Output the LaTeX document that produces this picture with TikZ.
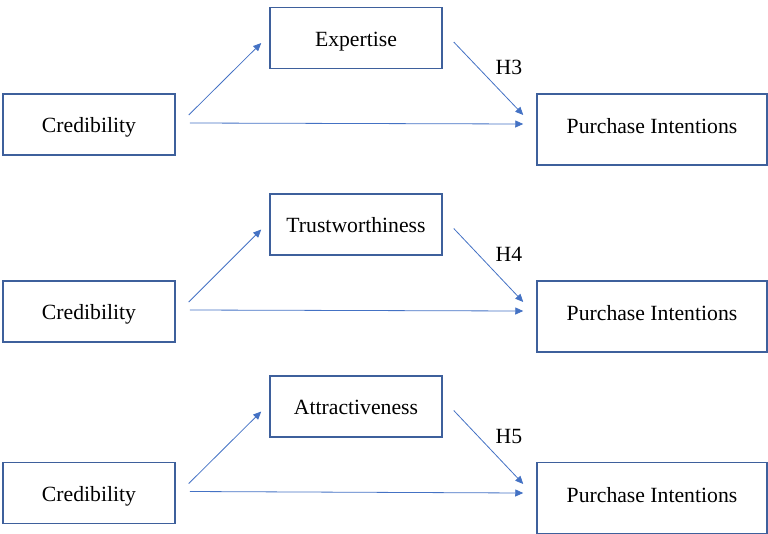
\documentclass[tikz,border=0pt]{standalone}
\usepackage{fontspec}
\setmainfont{Liberation Serif}
\usetikzlibrary{arrows.meta,positioning}
\definecolor{boxblue}{RGB}{62,96,156}
\definecolor{arrowblue}{RGB}{68,114,196}

\begin{document}
\begin{tikzpicture}[x=1pt, y=-1pt,
  every node/.style={font=\fontsize{21.7}{26}\selectfont},
  varbox/.style={draw=boxblue, line width=1.5pt, rectangle, minimum width=172pt, minimum height=61pt, inner sep=0pt, text height=20pt, text depth=4pt},
  outbox/.style={varbox, minimum width=230pt, minimum height=71pt, text height=16pt, text depth=8pt},
  link/.style={draw=arrowblue, line width=0.8pt, -{Triangle[length=8pt,width=7pt]}}]
\useasboundingbox (0,0) rectangle (768,533);
% row 1
\node[varbox] (cred1) at (89,124.5) {Credibility};
\node[varbox] (expert) at (356,38) {Expertise};
\node[outbox] (purch1) at (652,129.5) {Purchase Intentions};
\node (h3) at (509,67) {H3};
\draw[link] ([xshift=13pt,yshift=9.5pt]cred1.east) -- ([xshift=-8pt,yshift=-5pt]expert.west);
\draw[link] ([xshift=14pt,yshift=1.5pt]cred1.east) -- ([xshift=-13pt,yshift=5.5pt]purch1.west);
\draw[link] ([xshift=11pt,yshift=-4pt]expert.east) -- ([xshift=-13pt,yshift=14.5pt]purch1.west);
% row 2
\node[varbox] (cred2) at (89,311.5) {Credibility};
\node[varbox] (trust) at (356,224.5) {Trustworthiness};
\node[outbox] (purch2) at (652,316.5) {Purchase Intentions};
\node (h4) at (509,254) {H4};
\draw[link] ([xshift=13pt,yshift=9.5pt]cred2.east) -- ([xshift=-8pt,yshift=-5pt]trust.west);
\draw[link] ([xshift=14pt,yshift=1.5pt]cred2.east) -- ([xshift=-13pt,yshift=5.5pt]purch2.west);
\draw[link] ([xshift=11pt,yshift=-4pt]trust.east) -- ([xshift=-13pt,yshift=14.5pt]purch2.west);
% row 3
\node[varbox] (cred3) at (89,493) {Credibility};
\node[varbox] (attract) at (356,406.5) {Attractiveness};
\node[outbox] (purch3) at (652,498) {Purchase Intentions};
\node (h5) at (509,436) {H5};
\draw[link] ([xshift=13pt,yshift=9.5pt]cred3.east) -- ([xshift=-8pt,yshift=-5pt]attract.west);
\draw[link] ([xshift=14pt,yshift=1.5pt]cred3.east) -- ([xshift=-13pt,yshift=5pt]purch3.west);
\draw[link] ([xshift=11pt,yshift=-4pt]attract.east) -- ([xshift=-13pt,yshift=14pt]purch3.west);
\end{tikzpicture}
\end{document}
